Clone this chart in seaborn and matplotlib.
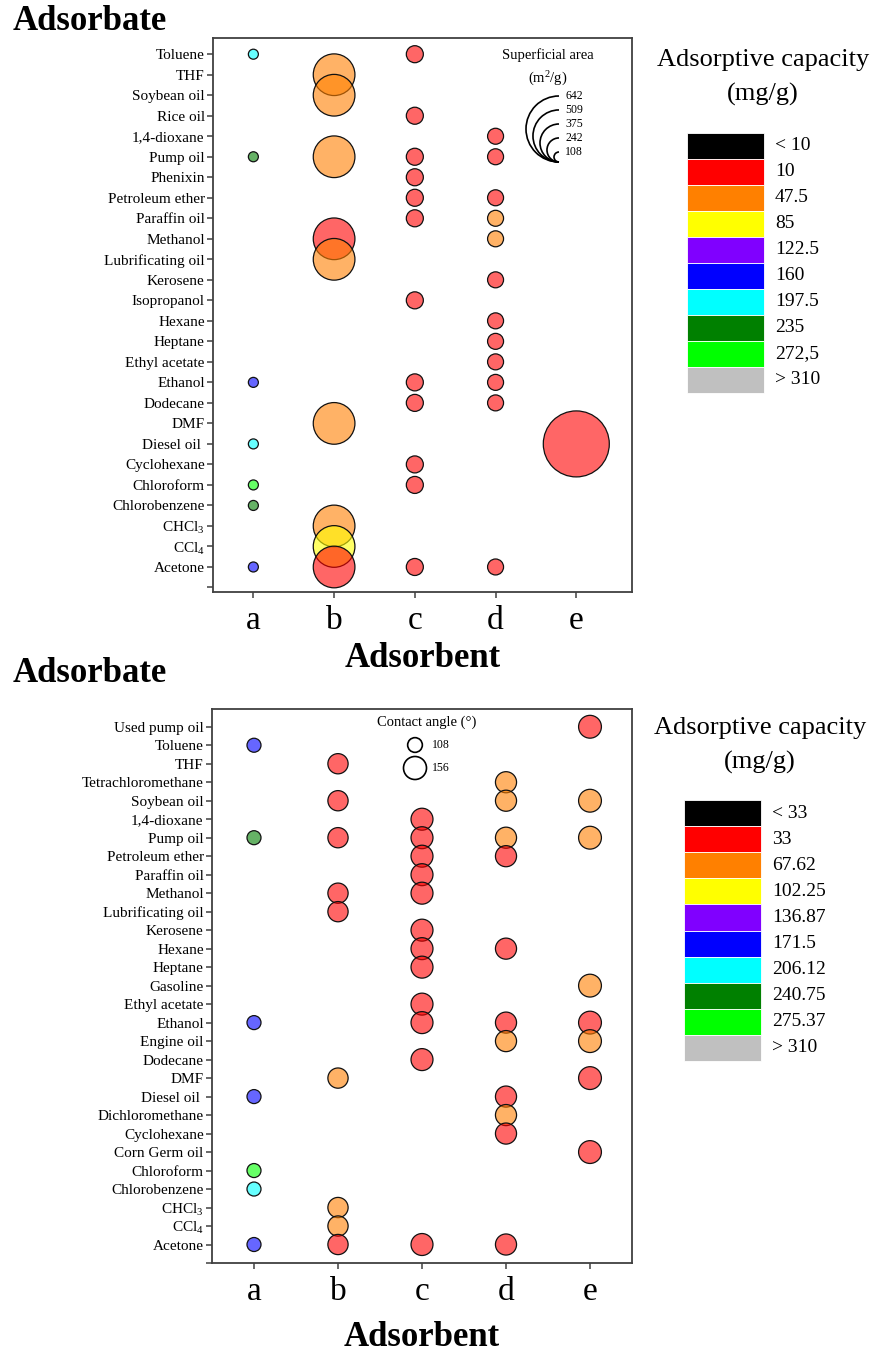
import numpy as np
import pandas as pd
import matplotlib
matplotlib.use("Agg")
import matplotlib.pyplot as plt
import seaborn as sns
from matplotlib.patches import Rectangle, Arc

sns.set_theme(style="ticks")
plt.rcParams['font.family'] = ['Liberation Serif', 'DejaVu Serif']
plt.rcParams['mathtext.fontset'] = 'custom'
plt.rcParams['mathtext.rm'] = 'Liberation Serif'
plt.rcParams['text.color'] = 'black'
plt.rcParams['axes.labelcolor'] = 'black'
plt.rcParams['xtick.color'] = 'black'
plt.rcParams['ytick.color'] = 'black'

# ---------------- data ----------------
adsorbents = ["a", "b", "c", "d", "e"]

# top panel
top_adsorbates = ["Toluene", "THF", "Soybean oil", "Rice oil", "1,4-dioxane", "Pump oil",
                  "Phenixin", "Petroleum ether", "Paraffin oil", "Methanol", "Lubrificating oil",
                  "Kerosene", "Isopropanol", "Hexane", "Heptane", "Ethyl acetate", "Ethanol",
                  "Dodecane", "DMF", "Diesel oil ", "Cyclohexane", "Chloroform", "Chlorobenzene",
                  "CHCl3", "CCl4", "Acetone"]
top_bins = ["< 10", "10", "47.5", "85", "122.5", "160", "197.5", "235", "272,5", "> 310"]
top_area = [108, 410, 175, 165, 642]          # superficial area (m2/g) of adsorbents a..e
top_area_legend = [642, 509, 375, 242, 108]

top_a_names = ["Toluene", "Pump oil", "Ethanol", "Diesel oil ", "Chloroform", "Chlorobenzene", "Acetone"]
top_a_cap = ["197.5", "235", "160", "197.5", "272,5", "235", "160"]
top_b_names = ["THF", "Soybean oil", "Pump oil", "Methanol", "Lubrificating oil", "DMF", "CHCl3", "CCl4", "Acetone"]
top_b_cap = ["47.5", "47.5", "47.5", "10", "47.5", "47.5", "47.5", "85", "10"]
top_c_names = ["Toluene", "Rice oil", "Pump oil", "Phenixin", "Petroleum ether", "Paraffin oil",
               "Isopropanol", "Ethanol", "Dodecane", "Cyclohexane", "Chloroform", "Acetone"]
top_c_cap = ["10"] * 12
top_d_names = ["1,4-dioxane", "Pump oil", "Petroleum ether", "Paraffin oil", "Methanol", "Kerosene",
               "Hexane", "Heptane", "Ethyl acetate", "Ethanol", "Dodecane", "Acetone"]
top_d_cap = ["10", "10", "10", "47.5", "47.5", "10", "10", "10", "10", "10", "10", "10"]
top_e_names = ["Diesel oil "]
top_e_cap = ["10"]

# bottom panel
bot_adsorbates = ["Used pump oil", "Toluene", "THF", "Tetrachloromethane", "Soybean oil", "1,4-dioxane",
                  "Pump oil", "Petroleum ether", "Paraffin oil", "Methanol", "Lubrificating oil",
                  "Kerosene", "Hexane", "Heptane", "Gasoline", "Ethyl acetate", "Ethanol", "Engine oil",
                  "Dodecane", "DMF", "Diesel oil ", "Dichloromethane", "Cyclohexane", "Corn Germ oil",
                  "Chloroform", "Chlorobenzene", "CHCl3", "CCl4", "Acetone"]
bot_bins = ["< 33", "33", "67.62", "102.25", "136.87", "171.5", "206.12", "240.75", "275.37", "> 310"]
bot_angle = [104, 140, 150, 145, 155]          # contact angle (deg) of adsorbents a..e
bot_angle_legend = [108, 156]

bot_a_names = ["Toluene", "Pump oil", "Ethanol", "Diesel oil ", "Chloroform", "Chlorobenzene", "Acetone"]
bot_a_cap = ["171.5", "240.75", "171.5", "171.5", "275.37", "206.12", "171.5"]
bot_b_names = ["THF", "Soybean oil", "Pump oil", "Methanol", "Lubrificating oil", "DMF", "CHCl3", "CCl4", "Acetone"]
bot_b_cap = ["33", "33", "33", "33", "33", "67.62", "67.62", "67.62", "33"]
bot_c_names = ["1,4-dioxane", "Pump oil", "Petroleum ether", "Paraffin oil", "Methanol", "Kerosene",
               "Hexane", "Heptane", "Ethyl acetate", "Ethanol", "Dodecane", "Acetone"]
bot_c_cap = ["33"] * 12
bot_d_names = ["Tetrachloromethane", "Soybean oil", "Pump oil", "Petroleum ether", "Hexane", "Ethanol",
               "Engine oil", "Diesel oil ", "Dichloromethane", "Cyclohexane", "Acetone"]
bot_d_cap = ["67.62", "67.62", "67.62", "33", "33", "33", "67.62", "33", "67.62", "33", "33"]
bot_e_names = ["Used pump oil", "Soybean oil", "Pump oil", "Gasoline", "Ethanol", "Engine oil", "DMF", "Corn Germ oil"]
bot_e_cap = ["33", "67.62", "67.62", "67.62", "33", "67.62", "33", "33"]

bin_colors = ["#000000", "#FF0000", "#FF8000", "#FFFF00", "#8000FF", "#0000FF",
              "#00FFFF", "#008000", "#00FF00", "#C0C0C0"]

label_fix = {"CHCl3": r"CHCl$\mathregular{_3}$", "CCl4": r"CCl$\mathregular{_4}$"}

# ---------------- helpers ----------------
W, H = 886, 1358
fig = plt.figure(figsize=(W / 100, H / 100), dpi=100)


def fx(px):
    return px / W


def fy(py):
    return 1 - py / H


def top_diam(v):   # marker diameter in pixels
    return 10 + (v - 108) * 56 / 534


def bot_diam(v):
    return 14.7 + (v - 108) * 0.173


def pt2(d_px):
    return (d_px * 0.72) ** 2


def build(adsorbates, names_list, caps_list, sizes):
    n = len(adsorbates)
    ypos = {nm: n - 1 - i for i, nm in enumerate(adsorbates)}
    rows = []
    for xi, (names, caps) in enumerate(zip(names_list, caps_list)):
        for nm, cp in zip(names, caps):
            rows.append({"x": xi, "y": ypos[nm], "bin": cp, "size": sizes[xi]})
    return pd.DataFrame(rows)


def draw_panel(ax, df, bins, sizefun, adsorbates, ylim, xlim):
    pal = dict(zip(bins, bin_colors))
    sizes = {v: pt2(sizefun(v)) for v in df["size"].unique()}
    sns.scatterplot(data=df, x="x", y="y", hue="bin", palette=pal, size="size", sizes=sizes,
                    legend=False, ax=ax, linewidth=0.9, edgecolor="#111111", zorder=3)
    for coll in ax.collections:
        fc = coll.get_facecolors()
        fc[:, 3] = 0.6
        coll.set_facecolor(fc)
        coll.set_edgecolor("#111111")
    n = len(adsorbates)
    ax.set_xlim(*xlim)
    ax.set_ylim(*ylim)
    ax.set_xticks(range(5))
    ax.set_xticklabels(adsorbents, fontsize=24)
    ax.set_yticks(list(range(-1, n)))
    labs = [""] + [label_fix.get(a, a) for a in adsorbates[::-1]]
    ax.set_yticklabels(labs, fontsize=11)
    ax.set_ylabel("")
    for s in ax.spines.values():
        s.set_color("#404040")
        s.set_linewidth(1.3)
    ax.tick_params(axis="y", length=4, width=1.1, color="#404040", pad=2)
    ax.tick_params(axis="x", length=4, width=1.1, color="#404040", pad=6)
    ax.set_xlabel("Adsorbent", fontsize=25, fontweight="bold")


def colorbox(x0, y0, row, lab_x, bins):
    for i, (lab, col) in enumerate(zip(bins, bin_colors)):
        fig.add_artist(Rectangle((fx(x0), fy(y0 + row * (i + 1))), 77 / W, row / H,
                                 facecolor=col, edgecolor="white", linewidth=0.6,
                                 transform=fig.transFigure))
        fig.text(fx(lab_x), fy(y0 + row * i + row / 2), lab, fontsize=14, va="center", ha="left")


# ---------------- top panel ----------------
ax1 = fig.add_axes([fx(213), fy(592), (632 - 213) / W, (592 - 38) / H])
df1 = build(top_adsorbates,
            [top_a_names, top_b_names, top_c_names, top_d_names, top_e_names],
            [top_a_cap, top_b_cap, top_c_cap, top_d_cap, top_e_cap], top_area)
draw_panel(ax1, df1, top_bins, top_diam, top_adsorbates, (-1.22, 25.79), (-0.5, 4.69))
ax1.xaxis.set_label_coords(0.5, -0.09)

fig.text(fx(13), fy(22), "Adsorbate", fontsize=25, fontweight="bold", va="center", ha="left")
fig.text(fx(763), fy(60), "Adsorptive capacity", fontsize=19, ha="center", va="center")
fig.text(fx(763), fy(94), "(mg/g)", fontsize=19, ha="center", va="center")
colorbox(687, 133, 26, 775, top_bins)

# superficial area legend
fig.text(fx(548), fy(55), "Superficial area", fontsize=10.5, ha="center", va="center")
fig.text(fx(548), fy(79), r"(m$\mathregular{^2}$/g)", fontsize=10.5, ha="center", va="center")
for v in top_area_legend:
    r = top_diam(v) / 2
    fig.add_artist(Arc((fx(559), fy(162 - r)), 2 * r / W, 2 * r / H, theta1=90, theta2=270,
                       transform=fig.transFigure, color="black", linewidth=1.2))
    fig.text(fx(565), fy(162 - 2 * r), str(v), fontsize=8.5, ha="left", va="center")

# ---------------- bottom panel ----------------
ax2 = fig.add_axes([fx(212), fy(1263), (632 - 212) / W, (1263 - 709) / H])
df2 = build(bot_adsorbates,
            [bot_a_names, bot_b_names, bot_c_names, bot_d_names, bot_e_names],
            [bot_a_cap, bot_b_cap, bot_c_cap, bot_d_cap, bot_e_cap], bot_angle)
draw_panel(ax2, df2, bot_bins, bot_diam, bot_adsorbates, (-1.0, 28.96), (-0.5, 4.5))
ax2.xaxis.set_label_coords(0.5, -0.105)

fig.text(fx(13), fy(673), "Adsorbate", fontsize=25, fontweight="bold", va="center", ha="left")
fig.text(fx(760), fy(728), "Adsorptive capacity", fontsize=19, ha="center", va="center")
fig.text(fx(760), fy(762), "(mg/g)", fontsize=19, ha="center", va="center")
colorbox(684, 800, 26.1, 772, bot_bins)

# contact angle legend
fig.text(fx(427), fy(722), "Contact angle (°)", fontsize=10.5, ha="center", va="center")
for v, yy in zip(bot_angle_legend, [745, 768]):
    ax2.scatter([fx(415)], [fy(yy)], s=pt2(bot_diam(v)), facecolor="none", edgecolor="black",
                linewidth=1.2, transform=fig.transFigure, clip_on=False)
    fig.text(fx(432), fy(yy), str(v), fontsize=8.5, ha="left", va="center")

fig.savefig("out.png", dpi=100, facecolor="white")
